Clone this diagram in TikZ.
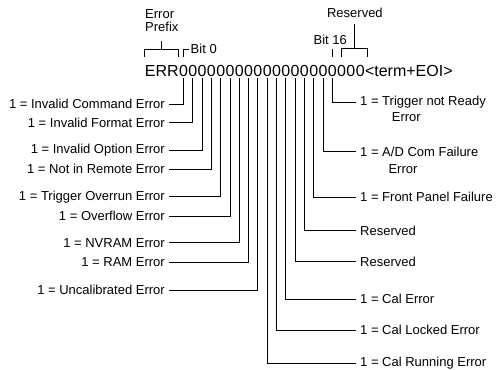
\documentclass[tikz,border=0pt]{standalone}
\usepackage{fontspec}
\setmainfont{Liberation Sans}

\begin{document}
\begin{tikzpicture}[x=1pt, y=-1pt,
  wire/.style={line width=0.9pt},
  lbl/.style={font=\fontsize{13}{13.5}\selectfont, inner xsep=4pt, inner ysep=1pt},
  digit/.style={font=\fontsize{16}{19}\selectfont, anchor=base west, inner xsep=0pt, inner ysep=2pt}]
\useasboundingbox (0,0) rectangle (499,370);

% reply string: prefix, twenty bit digits, terminator
\node[digit] (err) at (144.7,76) {ERR};
\node[digit] (b0) at (err.base east) {0};
\foreach \i [remember=\i as \j (initially 0)] in {1,...,19}
  \node[digit] (b\i) at (b\j.base east) {0};
\node[digit] (term) at (b19.base east) {<term+EOI>};

% markers above the string
\draw[wire] ([yshift=6pt]err.north west) |- ([yshift=13pt]err.north) -| ([yshift=6pt]err.north east);
\draw[wire] ([yshift=13pt]err.north) -- ([yshift=22pt]err.north);
\node[lbl, align=left, anchor=south west] (prefix) at (141,33) {Error\\Prefix};
\draw[wire] ([yshift=6pt]b0.north) |- ([xshift=5pt,yshift=13pt]b0.north);
\node[lbl, anchor=west] (bit0) at ([xshift=3pt,yshift=14pt]b0.north) {Bit 0};
\draw[wire] ([yshift=6pt]b16.north) -- ([yshift=14pt]b16.north);
\node[lbl, anchor=south] (bit16) at ([xshift=-2pt,yshift=17pt]b16.north) {Bit 16};
\draw[wire] ([yshift=6pt]b17.north) |- ([xshift=3pt,yshift=14pt]b19.north east) -- ([xshift=3pt,yshift=6pt]b19.north east);
\node[lbl, anchor=south] (resv) at ([xshift=4pt,yshift=44pt]b18.north) {Reserved};
\draw[wire, shorten >=5pt] ([xshift=4pt,yshift=14pt]b18.north) -- (resv.south);

% bits 0..8 to the left
\foreach \y/\txt [count=\i from 0] in {104/Invalid Command Error, 122.7/Invalid Format Error,
    150/Invalid Option Error, 169.3/Not in Remote Error, 196.7/Trigger Overrun Error,
    216/Overflow Error, 242.7/NVRAM Error, 262.3/RAM Error, 290/Uncalibrated Error}
{
  \node[lbl, anchor=east] (l\i) at (169,\y) {1 = \txt};
  \draw[wire] (b\i.south) |- (l\i.east);
}

% bits 16..9 to the right
\foreach \y/\txt [count=\k] in {102.3/{1 = Trigger not Ready}, 151.7/{1 = A/D Com Failure},
    197.3/{1 = Front Panel Failure}, 230.5/Reserved, 261.7/Reserved, 299/{1 = Cal Error},
    330/{1 = Cal Locked Error}, 363.5/{1 = Cal Running Error}}
{
  \pgfmathtruncatemacro\n{17-\k}
  \node[lbl, anchor=west] (r\n) at (356,\y) {\txt};
  \draw[wire] (b\n.south) |- (r\n.west);
}
\node[lbl, anchor=west] (r16x) at (387.7,117.3) {Error};
\node[lbl, anchor=west] (r15x) at (384.3,169) {Error};
\end{tikzpicture}
\end{document}
